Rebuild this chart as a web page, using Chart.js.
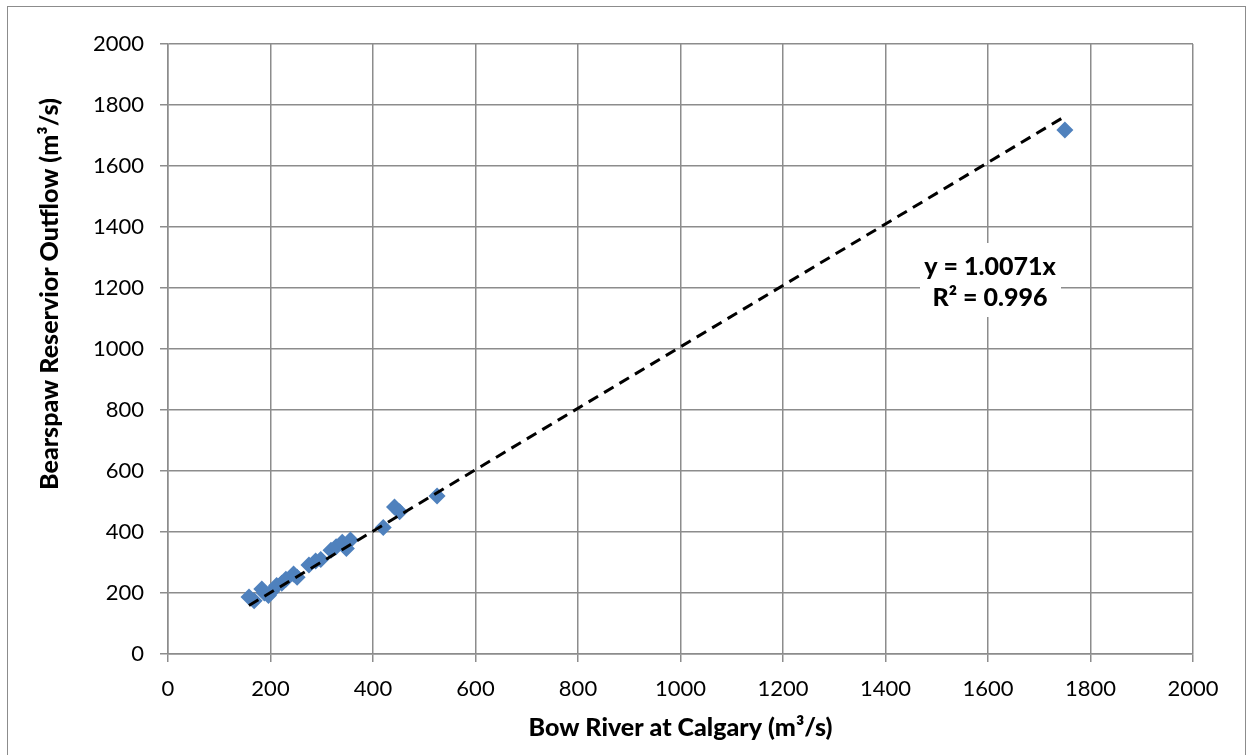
<!DOCTYPE html>
<html>
<head>
<meta charset="utf-8">
<script src="https://cdn.jsdelivr.net/npm/chart.js@4"></script>
<style>
  html, body { margin: 0; padding: 0; background: #fff; }
  #wrap { width: 1248px; height: 755px; position: relative; }
</style>
</head>
<body>
<div id="wrap"><canvas id="myChart" width="1248" height="755"></canvas></div>
<script>
'use strict';

// Bow River at Calgary (x) vs Bearspaw Reservoir outflow (y), m3/s
const bowRiver = [158, 168, 183, 188, 196, 202, 212, 222, 230, 245, 252, 275, 288, 298, 318, 328, 340, 348, 356, 420, 442, 452, 525, 1750];
const bearspaw = [187, 175, 213, 200, 192, 205, 225, 232, 245, 262, 252, 292, 305, 310, 340, 352, 366, 346, 374, 415, 482, 466, 518, 1718];
const yTicks = [0, 200, 400, 600, 800, 1000, 1200, 1400, 1600, 1800, 2000];
const slope = 1.0071;
const eqText = ['y = 1.0071x', 'R\u00b2 = 0.996'];
const yTitle = 'Bearspaw Reservior Outflow (m\u00b3/s)';
const xTitle = 'Bow River at Calgary (m\u00b3/s)';

let points = [];
for (let i = 0; i < bowRiver.length; i++) {
  points.push({ x: bowRiver[i], y: bearspaw[i] });
}
const xMin = Math.min(...bowRiver);
const xMax = Math.max(...bowRiver);
const trend = [{ x: xMin, y: slope * xMin }, { x: xMax, y: slope * xMax }];

const gridColor = '#8c8c8c';
const fontFam = 'Lato, "Liberation Sans", sans-serif';

// outer frame, y title and equation label
const extras = {
  id: 'extras',
  beforeDraw(chart) {
    const ctx = chart.ctx;
    ctx.save();
    ctx.fillStyle = '#fff';
    ctx.fillRect(0, 0, chart.width, chart.height);
    ctx.strokeStyle = '#8c8c8c';
    ctx.lineWidth = 1;
    ctx.strokeRect(7.5, 6.5, 1238, 760);
    // y axis title sits a bit above the middle of the axis, like the original
    ctx.translate(50, 294);
    ctx.rotate(-Math.PI / 2);
    ctx.fillStyle = '#000';
    ctx.font = '900 25px ' + fontFam;
    ctx.textAlign = 'center';
    ctx.textBaseline = 'middle';
    ctx.fillText(yTitle, 0, 0);
    ctx.restore();
  },
  afterDatasetsDraw(chart) {
    const ctx = chart.ctx;
    const xs = chart.scales.x;
    const ys = chart.scales.y;
    const cx = xs.getPixelForValue(1600) + 2;
    const cy = ys.getPixelForValue(1200);
    ctx.save();
    ctx.fillStyle = '#fff';
    ctx.fillRect(cx - 70, cy - 45, 141, 74);
    ctx.fillStyle = '#000';
    ctx.font = '900 25px ' + fontFam;
    ctx.textAlign = 'center';
    ctx.textBaseline = 'middle';
    ctx.fillText(eqText[0], cx, cy - 21);
    ctx.fillText(eqText[1], cx, cy + 10);
    ctx.restore();
  }
};

let ctx = document.getElementById('myChart').getContext('2d');
let chart = new Chart(ctx, {
  type: 'scatter',
  data: {
    datasets: [{
      label: 'Trend',
      type: 'line',
      data: trend,
      borderColor: '#000',
      borderWidth: 3,
      borderDash: [11, 7],
      pointRadius: 0,
      fill: false,
      order: 0
    },
    {
      label: 'Flows',
      data: points,
      backgroundColor: '#4f81bd',
      borderColor: '#4f81bd',
      borderWidth: 0,
      pointStyle: 'rectRot',
      pointRadius: 8.5,
      order: 1
    }]
  },
  options: {
    responsive: false,
    animation: false,
    layout: { padding: { left: 22, right: 55, top: 44, bottom: 8 } },
    plugins: { legend: { display: false }, tooltip: { enabled: false } },
    scales: {
      x: {
        type: 'linear',
        min: 0,
        max: 2000,
        afterFit(scale) { scale.height = 755 - 654 - 8; },
        ticks: {
          stepSize: 200, color: '#000', padding: 14,
          font: { family: fontFam, size: 22 },
          callback: v => String(v)
        },
        grid: { color: gridColor, lineWidth: 1.5, tickLength: 8 },
        border: { color: gridColor, width: 1.5 },
        title: {
          display: true,
          text: xTitle,
          color: '#000',
          font: { family: fontFam, size: 25, weight: '900' },
          padding: { top: 0, bottom: 4 }
        }
      },
      y: {
        min: 0,
        max: 2000,
        afterFit(scale) { scale.width = 168 - 22; },
        afterBuildTicks(scale) { scale.ticks = yTicks.map(v => ({ value: v })); },
        ticks: {
          color: '#000', padding: 16,
          font: { family: fontFam, size: 22 },
          callback: v => String(v)
        },
        grid: { color: gridColor, lineWidth: 1.5, tickLength: 8 },
        border: { color: gridColor, width: 1.5 }
      }
    }
  },
  plugins: [extras]
});
</script>
</body>
</html>
